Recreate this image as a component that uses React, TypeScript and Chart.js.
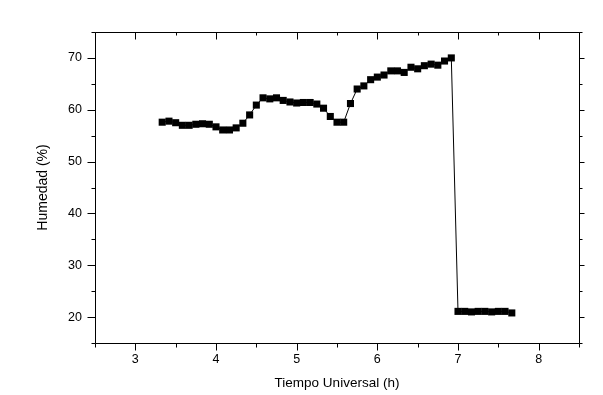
import React, { useEffect, useRef } from "react";
import { Chart, registerables } from "chart.js";

Chart.register(...registerables);

const times: number[] = [
  3.333, 3.417, 3.5, 3.583, 3.667, 3.75, 3.833, 3.917, 4.0, 4.083, 4.167, 4.25,
  4.333, 4.417, 4.5, 4.583, 4.667, 4.75, 4.833, 4.917, 5.0, 5.083, 5.167, 5.25,
  5.333, 5.417, 5.5, 5.583, 5.667, 5.75, 5.833, 5.917, 6.0, 6.083, 6.167, 6.25,
  6.333, 6.417, 6.5, 6.583, 6.667, 6.75, 6.833, 6.917, 7.0, 7.083, 7.167, 7.25,
  7.333, 7.417, 7.5, 7.583, 7.667,
];

const humidity: number[] = [
  57.6, 57.8, 57.5, 57.0, 57.0, 57.2, 57.3, 57.2, 56.7, 56.1, 56.1, 56.5,
  57.4, 59.0, 60.9, 62.3, 62.1, 62.3, 61.8, 61.5, 61.3, 61.4, 61.4, 61.1,
  60.3, 58.7, 57.6, 57.6, 61.2, 64.0, 64.6, 65.8, 66.3, 66.7, 67.5, 67.5,
  67.2, 68.2, 67.9, 68.5, 68.8, 68.6, 69.4, 70.0, 21.1, 21.1, 21.0, 21.1,
  21.1, 21.0, 21.1, 21.1, 20.8,
];

const xMajorTicks: number[] = [3, 4, 5, 6, 7, 8];
const xMinorTicks: number[] = [2.5, 3.5, 4.5, 5.5, 6.5, 7.5, 8.5];
const yMajorTicks: number[] = [20, 30, 40, 50, 60, 70];
const yMinorTicks: number[] = [15, 25, 35, 45, 55, 65, 75];

const xTitle = "Tiempo Universal (h)";
const yTitle = "Humedad (%)";

const FONT = "'Liberation Sans', Arial, sans-serif";

const framePlugin = {
  id: "frameTicks",
  afterDraw(chart: any) {
    const { ctx, chartArea } = chart;
    const { left, right, top, bottom } = chartArea;
    const xs = chart.scales.x;
    const ys = chart.scales.y;
    ctx.save();
    ctx.strokeStyle = "#000";
    ctx.lineWidth = 1;
    ctx.beginPath();
    ctx.rect(Math.round(left) + 0.5, Math.round(top) + 0.5, Math.round(right - left), Math.round(bottom - top));
    const hTick = (v: number, y0: number, len: number) => {
      const x = Math.round(xs.getPixelForValue(v)) + 0.5;
      ctx.moveTo(x, Math.round(y0) + 0.5);
      ctx.lineTo(x, Math.round(y0) + 0.5 + len);
    };
    const vTick = (v: number, x0: number, len: number) => {
      const y = Math.round(ys.getPixelForValue(v)) + 0.5;
      ctx.moveTo(Math.round(x0) + 0.5, y);
      ctx.lineTo(Math.round(x0) + 0.5 + len, y);
    };
    xMajorTicks.forEach((v) => { hTick(v, bottom, 7); hTick(v, top, 7); });
    xMinorTicks.forEach((v) => { hTick(v, bottom, 4); hTick(v, top, 3); });
    yMajorTicks.forEach((v) => { vTick(v, left, -8); vTick(v, right, 5); });
    yMinorTicks.forEach((v) => { vTick(v, left, -4); vTick(v, right, 3); });
    ctx.stroke();
    ctx.restore();
  },
};

export default function App() {
  const ref = useRef<HTMLCanvasElement | null>(null);
  useEffect(() => {
    if (!ref.current) return;
    const chart = new Chart(ref.current, {
      type: "line",
      data: {
        datasets: [
          {
            data: times.map((t, i) => ({ x: t, y: humidity[i] })),
            borderColor: "#000",
            backgroundColor: "#000",
            borderWidth: 1,
            pointStyle: "rect",
            pointRadius: 5,
            pointBorderWidth: 0,
            pointBackgroundColor: "#000",
            tension: 0,
          },
        ],
      },
      plugins: [framePlugin],
      options: {
        animation: false,
        responsive: false,
        devicePixelRatio: 1,
        layout: { padding: { top: 32, right: 24, left: 0, bottom: 0 } },
        plugins: { legend: { display: false }, tooltip: { enabled: false } },
        scales: {
          x: {
            type: "linear",
            min: 2.5,
            max: 8.5,
            afterBuildTicks: (s: any) => { s.ticks = xMajorTicks.map((v) => ({ value: v })); },
            afterFit: (s: any) => { s.height = 52; },
            grid: { display: false, drawTicks: false },
            border: { display: false },
            ticks: { color: "#000", padding: 9, font: { family: FONT, size: 12.5 }, maxRotation: 0, callback: (v: any) => String(v) },
            title: { display: true, text: xTitle, color: "#000", font: { family: FONT, size: 13.5 }, padding: { top: 0, bottom: 4 } },
          },
          y: {
            type: "linear",
            min: 15,
            max: 75,
            afterBuildTicks: (s: any) => { s.ticks = yMajorTicks.map((v) => ({ value: v })); },
            afterFit: (s: any) => { s.width = 95; },
            grid: { display: false, drawTicks: false },
            border: { display: false },
            ticks: { color: "#000", padding: 13, font: { family: FONT, size: 12.5 }, callback: (v: any) => String(v) },
            title: { display: true, text: yTitle, color: "#000", font: { family: FONT, size: 14 }, padding: { top: 35, bottom: 0 } },
          },
        },
      },
    } as any);
    return () => chart.destroy();
  }, []);
  return (
    <div style={{ position: "absolute", left: 0, top: 0, width: 603, height: 395, background: "#fff" }}>
      <canvas ref={ref} width={603} height={395} style={{ display: "block" }} />
    </div>
  );
}
